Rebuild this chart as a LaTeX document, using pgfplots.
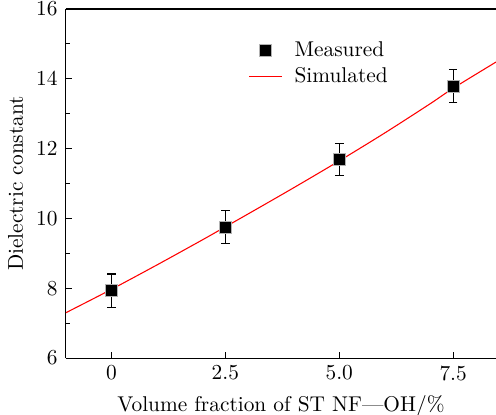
\documentclass[11pt,border=0pt]{standalone}
\usepackage{pgfplots}
\pgfplotsset{compat=1.18}
\begin{document}
\begin{tikzpicture}
\begin{axis}[
  name=ax,
  scale only axis,
  width=220.5pt, height=179pt,
  xmin=-1, xmax=8.44,
  ymin=6, ymax=16,
  axis x line=box,
  axis y line*=left,
  xtick={0,2.5,5,7.5},
  xticklabels={0,2.5,5.0,7.5},
  ytick={6,8,10,12,14,16},
  minor y tick num=1,
  xtick pos=bottom,
  tick align=inside,
  major tick length=3pt,
  minor tick length=2pt,
  axis line style={line width=0.55pt},
  tick style={line width=0.55pt, black},
  yticklabel style={xshift=-0.5pt},
  xlabel={Volume fraction of ST NF---OH/\%},
  ylabel={Dielectric constant},
  ylabel style={yshift=-0.8pt},
  legend style={at={(0.41,0.93)}, anchor=north west, draw=none, fill=none, row sep=0pt, nodes={inner xsep=6pt}},
  legend cell align=left,
]
\addplot[only marks, mark=square*, mark size=3.1pt, mark options={fill=black, draw=gray!60, line width=0.4pt},
  error bars/.cd, y dir=both, y explicit, error mark options={rotate=90, mark size=2.2pt, black, line width=0.55pt},
  error bar style={black, line width=0.55pt}]
  coordinates {
   (0,7.93) +- (0,0.48)
   (2.5,9.75) +- (0,0.48)
   (5,11.69) +- (0,0.47)
   (7.5,13.79) +- (0,0.48)
  };
\addlegendentry{Measured}
\addplot[draw=red, color=red, line width=0.55pt, smooth] coordinates {
  (-1,7.30) (0,7.97) (1,8.67) (2,9.39) (2.5,9.76) (3,10.13) (4,10.88) (5,11.65) (6,12.45) (7,13.29) (7.5,13.73) (8.44,14.48)
};
\addlegendentry{Simulated}
\end{axis}
\pgfresetboundingbox
\useasboundingbox ([xshift=-33.8pt,yshift=-28.7pt]ax.south west) rectangle ([yshift=4.6pt]ax.north east);
\end{tikzpicture}
\end{document}
